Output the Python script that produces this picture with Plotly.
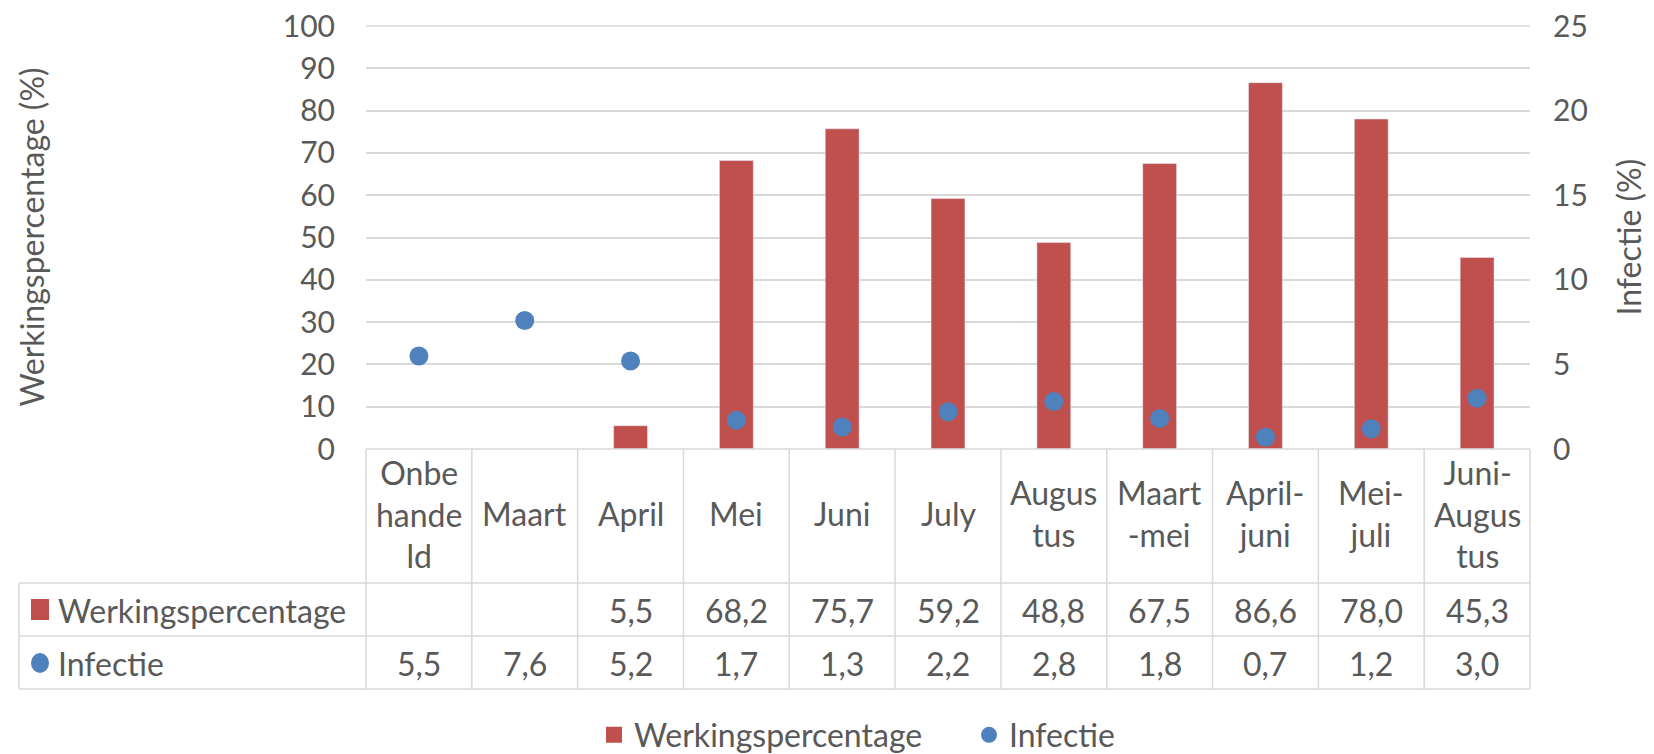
import plotly.graph_objects as go

# data
categories = ["Onbehandeld", "Maart", "April", "Mei", "Juni", "July", "Augustus",
              "Maart-mei", "April-juni", "Mei-juli", "Juni-Augustus"]
category_labels = ["Onbe<br>hande<br>ld", "Maart", "April", "Mei", "Juni", "July",
                   "Augus<br>tus", "Maart<br>-mei", "April-<br>juni", "Mei-<br>juli",
                   "Juni-<br>Augus<br>tus"]
werking = [None, None, 5.5, 68.2, 75.7, 59.2, 48.8, 67.5, 86.6, 78.0, 45.3]
infectie = [5.5, 7.6, 5.2, 1.7, 1.3, 2.2, 2.8, 1.8, 0.7, 1.2, 3.0]

RED = "#c0504d"
BLUE = "#4f81bd"
TEXT = "#595959"
GRID = "#d9d9d9"
FONT = "Lato, Calibri, 'Open Sans', sans-serif"
FS = 32

# page body margin shifts the figure, so work in reference pixels minus this
OFF = 8
W, H = 1654 - OFF, 754 - OFF
L, R, T, B = 366 - OFF, 1530 - OFF, 26 - OFF, 449 - OFF


def px_x(x):
    return (x - OFF - L) / (R - L)


def px_y(y):
    return (B - (y - OFF)) / (B - T)


def fmt(v):
    return "" if v is None else f"{v:.1f}".replace(".", ",")


fig = go.Figure()
fig.add_trace(go.Bar(x=categories, y=werking, name="Werkingspercentage",
                     marker_color=RED, width=0.32, yaxis="y",
                     legendgroup="w", showlegend=False))
# legend-only entry so the key is a bigger square, like Excel's
fig.add_trace(go.Scatter(x=[None], y=[None], name="Werkingspercentage", mode="markers",
                         marker=dict(color=RED, size=16, symbol="square"),
                         legendgroup="w", yaxis="y"))
fig.add_trace(go.Scatter(x=categories, y=infectie, name="Infectie", mode="markers",
                         marker=dict(color=BLUE, size=19), yaxis="y2"))

# data table below the plot (reference pixel rows)
row_lines = [583, 636, 689]
shapes = []
line = dict(color=GRID, width=1.5)
# top gridline (plotly drops the one at the range end)
shapes.append(dict(type="line", xref="paper", yref="paper", x0=0, x1=1,
                   y0=1, y1=1, line=line, layer="below"))
shapes.append(dict(type="line", xref="paper", yref="paper", x0=0, x1=1,
                   y0=0, y1=0, line=line))
for y in row_lines:
    shapes.append(dict(type="line", xref="paper", yref="paper", x0=px_x(19), x1=1,
                       y0=px_y(y), y1=px_y(y), line=line))
for i in range(len(categories) + 1):
    xv = i / len(categories)
    shapes.append(dict(type="line", xref="paper", yref="paper", x0=xv, x1=xv,
                       y0=0, y1=px_y(689), line=line))
shapes.append(dict(type="line", xref="paper", yref="paper", x0=px_x(19), x1=px_x(19),
                   y0=px_y(583), y1=px_y(689), line=line))
# series keys in the table
shapes.append(dict(type="rect", xref="paper", yref="paper", x0=px_x(31), x1=px_x(49),
                   y0=px_y(620), y1=px_y(599), fillcolor=RED, line_width=0))
shapes.append(dict(type="circle", xref="paper", yref="paper", x0=px_x(31), x1=px_x(49),
                   y0=px_y(673), y1=px_y(653), fillcolor=BLUE, line_width=0))

font = dict(family=FONT, size=FS, color=TEXT)
tick_font = dict(family=FONT, size=30, color=TEXT)
annotations = []
for cat, lab, w, inf in zip(categories, category_labels, werking, infectie):
    annotations.append(dict(x=cat, xref="x", y=px_y(514), yref="paper", text=lab,
                            showarrow=False, font=font, yanchor="middle"))
    annotations.append(dict(x=cat, xref="x", y=px_y(610), yref="paper", text=fmt(w),
                            showarrow=False, font=font, yanchor="middle"))
    annotations.append(dict(x=cat, xref="x", y=px_y(663), yref="paper", text=fmt(inf),
                            showarrow=False, font=font, yanchor="middle"))
annotations.append(dict(x=px_x(56), xref="paper", y=px_y(610), yref="paper",
                        text="Werkingspercentage", showarrow=False, font=font,
                        xanchor="left", yanchor="middle"))
annotations.append(dict(x=px_x(56), xref="paper", y=px_y(663), yref="paper",
                        text="Infectie", showarrow=False, font=font,
                        xanchor="left", yanchor="middle"))
# axis titles
annotations.append(dict(x=px_x(31), xref="paper", y=0.5, yref="paper",
                        text="Werkingspercentage (%)", textangle=-90, showarrow=False,
                        font=font, xanchor="center", yanchor="middle"))
annotations.append(dict(x=px_x(1628), xref="paper", y=0.5, yref="paper",
                        text="Infectie (%)", textangle=-90, showarrow=False,
                        font=font, xanchor="center", yanchor="middle"))

fig.update_layout(
    width=W, height=H,
    margin=dict(l=L, r=W - R, t=T, b=H - B, autoexpand=False),
    paper_bgcolor="white", plot_bgcolor="white",
    font=font,
    showlegend=True,
    legend=dict(orientation="h", x=px_x(594), xanchor="left", y=px_y(735),
                yanchor="middle", font=font, itemwidth=30,
                entrywidth=330, entrywidthmode="pixels"),
    xaxis=dict(type="category", range=[-0.5, 10.5], showticklabels=False,
               showgrid=False, zeroline=False, showline=False, automargin=False),
    yaxis=dict(range=[0, 100], dtick=10, gridcolor=GRID, gridwidth=1.5,
               zeroline=False, showline=False, tickfont=tick_font,
               ticklabelstandoff=30, ticklabeloverflow="allow", automargin=False),
    yaxis2=dict(range=[0, 25], dtick=5, overlaying="y", side="right", showgrid=False,
                zeroline=False, showline=False, tickfont=tick_font,
                ticklabelstandoff=22, ticklabeloverflow="allow", automargin=False),
    shapes=shapes,
    annotations=annotations,
)

fig.write_html("out.html")
